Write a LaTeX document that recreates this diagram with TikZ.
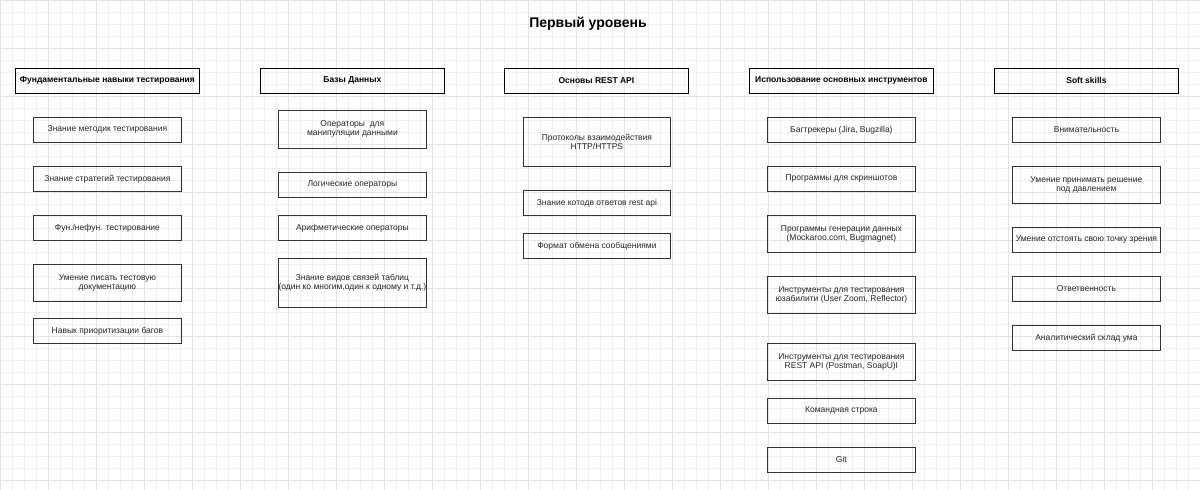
\documentclass[tikz,border=0pt]{standalone}
\usepackage{fontspec}
\setmainfont{Liberation Sans}
\usepackage{tikz}
\usetikzlibrary{positioning}

\tikzset{
  head/.style={draw, thick, anchor=north west, inner sep=0pt, align=center, font=\fontsize{8.5}{10}\selectfont\bfseries},
  skill/.style={draw, thick, draw=black!80, anchor=north west, inner sep=0pt, align=center, font=\fontsize{8.5}{9}\selectfont, text=black!85}
}
% box: name, x, y, width, height, text
\newcommand{\skillbox}[6]{\node[skill, minimum width=#4pt, minimum height=#5pt] (#1) at (#2,#3) {#6};}
\newcommand{\headbox}[4]{\node[head, minimum width=184pt, minimum height=25pt] (#1) at (#2,#3) {#4};}

\begin{document}
\begin{tikzpicture}[x=1pt, y=-1pt]
        % background grid
        \useasboundingbox (0,0) rectangle (1200,490);
        \fill[white] (0,0) rectangle (1200,490);
        \draw[black!6, line width=0.5pt] (0,0) grid[step=12pt] (1200,490);
        \draw[black!11, line width=0.6pt] (0,0) grid[step=48pt] (1200,490);

        % title
        \node[font=\fontsize{14}{16}\selectfont\bfseries] (title) at (588,24) {Первый уровень};

        % column headers
        \headbox{fund}{15}{68}{Фундаментальные навыки тестирования}
        \headbox{db}{260}{68}{Базы Данных}
        \headbox{rest}{504}{68}{Основы REST API}
        \headbox{tools}{749}{68}{Использование основных инструментов}
        \headbox{soft}{994}{68}{Soft skills}

        % fundamentals
        \skillbox{f1}{33}{117}{148}{25}{Знание методик тестирования}
        \skillbox{f2}{33}{166}{148}{25}{Знание стратегий тестирования}
        \skillbox{f3}{33}{215}{148}{25}{Фун./нефун. тестирование}
        \skillbox{f4}{33}{264}{148}{37}{Умение писать тестовую\\документацию}
        \skillbox{f5}{33}{318}{148}{25}{Навык приоритизации багов}

        % databases
        \skillbox{d1}{278}{110}{148}{38}{Операторы \ для\\манипуляции данными}
        \skillbox{d2}{278}{172}{148}{25}{Логические операторы}
        \skillbox{d3}{278}{215}{148}{25}{Арифметические операторы}
        \skillbox{d4}{278}{258}{148}{49}{Знание видов связей таблиц\\(один ко многим,один к одному и т.д.)}

        % rest api
        \skillbox{r1}{523}{117}{147}{49}{Протоколы взаимодействия\\HTTP/HTTPS}
        \skillbox{r2}{523}{190}{147}{25}{Знание котодв ответов rest api}
        \skillbox{r3}{523}{233}{147}{25}{Формат обмена сообщениями}

        % tools
        \skillbox{t1}{767}{117}{148}{25}{Багтрекеры (Jira, Bugzilla)}
        \skillbox{t2}{767}{166}{148}{25}{Программы для скриншотов}
        \skillbox{t3}{767}{215}{148}{37}{Программы генерации данных\\(Mockaroo.com, Bugmagnet)}
        \skillbox{t4}{767}{276}{148}{37}{Инструменты для тестирования\\юзабилити (User Zoom, Reflector)}
        \skillbox{t5}{767}{343}{148}{37}{Инструменты для тестирования\\REST API (Postman, SoapU)I}
        \skillbox{t6}{767}{398}{148}{25}{Командная строка}
        \skillbox{t7}{767}{447}{148}{25}{Git}

        % soft skills
        \skillbox{s1}{1012}{117}{148}{25}{Внимательность}
        \skillbox{s2}{1012}{166}{148}{37}{Умение принимать решение\\под давлением}
        \skillbox{s3}{1012}{227}{148}{25}{Умение отстоять свою точку зрения}
        \skillbox{s4}{1012}{276}{148}{25}{Ответвенность}
        \skillbox{s5}{1012}{325}{148}{25}{Аналитический склад ума}
\end{tikzpicture}
\end{document}
